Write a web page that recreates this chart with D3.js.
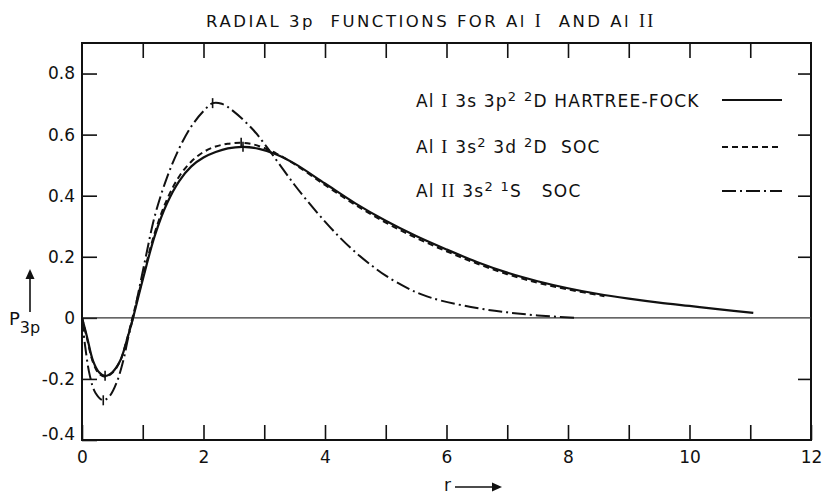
<!DOCTYPE html>
<html>
<head>
<meta charset="utf-8">
<script src="https://cdn.jsdelivr.net/npm/d3@7"></script>
<style>
	body { margin: 0; background: #fff; }
	text { font-family: "DejaVu Sans", sans-serif; fill: #111; }
	.roman { font-family: "Liberation Serif", serif; }
</style>
</head>
<body>
<div id="chart"></div>
<script>
// Al I 3s 3p2 2D Hartree-Fock
const rHF = [0, 0.08, 0.18, 0.28, 0.38, 0.5, 0.63, 0.74, 0.84, 1.0, 1.2, 1.4, 1.6, 1.8, 2.0, 2.2, 2.4, 2.65, 2.9, 3.2, 3.5, 4.0, 4.5, 5.0, 5.5, 6.0, 6.5, 7.0, 7.5, 8.0, 8.5, 9.0, 9.5, 10.0, 10.5, 11.05];
const pHF = [0, -0.06, -0.14, -0.178, -0.19, -0.178, -0.14, -0.072, 0, 0.125, 0.27, 0.375, 0.448, 0.496, 0.525, 0.543, 0.555, 0.56, 0.554, 0.535, 0.505, 0.44, 0.375, 0.318, 0.268, 0.224, 0.183, 0.148, 0.12, 0.097, 0.078, 0.063, 0.05, 0.039, 0.028, 0.016];

// Al I 3s2 3d 2D SOC
const rSOC = [0, 0.08, 0.18, 0.28, 0.38, 0.5, 0.63, 0.74, 0.83, 1.0, 1.2, 1.4, 1.6, 1.8, 2.0, 2.2, 2.4, 2.62, 2.8, 3.0, 3.2, 3.5, 4.0, 4.5, 5.0, 5.5, 6.0, 6.5, 7.0, 7.5, 8.0, 8.6];
const pSOC = [0, -0.065, -0.145, -0.183, -0.193, -0.18, -0.14, -0.07, 0, 0.132, 0.28, 0.388, 0.463, 0.512, 0.543, 0.561, 0.57, 0.573, 0.569, 0.556, 0.538, 0.503, 0.435, 0.37, 0.312, 0.262, 0.218, 0.178, 0.143, 0.115, 0.093, 0.071];

// Al II 3s2 1S SOC
const rIon = [0, 0.05, 0.13, 0.22, 0.35, 0.46, 0.57, 0.68, 0.76, 0.84, 1.04, 1.2, 1.4, 1.6, 1.8, 2.0, 2.15, 2.3, 2.49, 2.82, 3.04, 3.26, 3.5, 3.7, 4.0, 4.25, 4.5, 4.79, 5.0, 5.35, 5.6, 5.9, 6.5, 7.0, 7.5, 8.1];
const pIon = [0, -0.09, -0.19, -0.245, -0.27, -0.255, -0.212, -0.14, -0.065, 0, 0.19, 0.335, 0.46, 0.555, 0.627, 0.677, 0.703, 0.701, 0.677, 0.615, 0.56, 0.5, 0.435, 0.385, 0.315, 0.262, 0.215, 0.168, 0.138, 0.098, 0.076, 0.057, 0.032, 0.018, 0.008, 0];

const xTickValues = [0, 1, 2, 3, 4, 5, 6, 7, 8, 9, 10, 11, 12];
const yTickValues = [-0.4, -0.2, 0, 0.2, 0.4, 0.6, 0.8];

const legendLabels = [
	[["Al "], ["I", "roman"], [" 3s 3p"], ["2", "sup"], [" "], ["2", "sup"], ["D HARTREE-FOCK"]],
	[["Al "], ["I", "roman"], [" 3s"], ["2", "sup"], [" 3d "], ["2", "sup"], ["D  SOC"]],
	[["Al "], ["II", "roman"], [" 3s"], ["2", "sup"], [" "], ["1", "sup"], ["S   SOC"]]
];
const legendDash = [null, "6,4", "14,4,2,4"];

class RadialChart {
	constructor(parentElement) {
		this.parentElement = parentElement;
		this.series = [
			{ r: rHF, p: pHF },
			{ r: rSOC, p: pSOC },
			{ r: rIon, p: pIon }
		];
		this.initVis();
	}

	initVis() {
		let vis = this;
		vis.margin = { top: 43, right: 12, bottom: 56, left: 82 };
		vis.width = 823 - vis.margin.left - vis.margin.right;
		vis.height = 496 - vis.margin.top - vis.margin.bottom;

		vis.root = d3.select("#" + vis.parentElement)
			.append("svg")
			.attr("width", 823)
			.attr("height", 496);
		vis.svg = vis.root.append("g")
			.attr("transform", `translate(${vis.margin.left}, ${vis.margin.top})`);

		vis.xScale = d3.scaleLinear().domain([0, 12]).range([0, vis.width]);
		vis.yScale = d3.scaleLinear().domain([-0.4, 0.9]).range([vis.height, 0]);

		vis.updateVis();
	}

	updateVis() {
		let vis = this;

		// axes, all ticks point inward
		vis.svg.append("g")
			.attr("class", "axis x-axis")
			.attr("transform", `translate(0, ${vis.height})`)
			.call(d3.axisBottom(vis.xScale)
				.tickValues(xTickValues)
				.tickSize(-15)
				.tickPadding(11)
				.tickFormat(d => d % 2 ? "" : d));
		vis.svg.append("g")
			.attr("class", "axis top-axis")
			.call(d3.axisTop(vis.xScale)
				.tickValues(xTickValues.slice(1, -1))
				.tickSize(-15)
				.tickFormat(""));
		vis.svg.append("g")
			.attr("class", "axis y-axis")
			.call(d3.axisLeft(vis.yScale)
				.tickValues(yTickValues)
				.tickSize(-15)
				.tickPadding(7)
				.tickFormat(d => d === 0 ? "0" : d.toFixed(1)));
		vis.svg.append("g")
			.attr("class", "axis right-axis")
			.attr("transform", `translate(${vis.width}, 0)`)
			.call(d3.axisRight(vis.yScale)
				.tickValues(yTickValues.filter(d => d !== 0 && d !== -0.4))
				.tickSize(-13)
				.tickFormat(""));

		vis.svg.selectAll(".axis .domain").remove();
		vis.svg.selectAll(".axis line").attr("stroke", "#111").attr("stroke-width", 1.6);
		vis.svg.selectAll(".axis text")
			.style("font-family", "'DejaVu Sans', sans-serif")
			.style("font-size", "17px")
			.attr("fill", "#111");
		vis.svg.selectAll(".y-axis .tick text")
			.filter(d => d === -0.4)
			.attr("dy", "-0.05em");

		// frame and zero line
		vis.svg.append("rect")
			.attr("width", vis.width)
			.attr("height", vis.height)
			.attr("fill", "none")
			.attr("stroke", "#111")
			.attr("stroke-width", 2);
		vis.svg.append("line")
			.attr("x1", 0).attr("x2", vis.width)
			.attr("y1", vis.yScale(0)).attr("y2", vis.yScale(0))
			.attr("stroke", "#333")
			.attr("stroke-width", 1.2);

		const line = d3.line()
			.x(d => vis.xScale(d[0]))
			.y(d => vis.yScale(d[1]))
			.curve(d3.curveCatmullRom.alpha(0.5));

		vis.series.forEach((s, i) => {
			const pts = s.r.map((r, j) => [r, s.p[j]]);
			vis.svg.append("path")
				.datum(pts)
				.attr("class", "line")
				.attr("d", line)
				.attr("fill", "none")
				.attr("stroke", "#111")
				.attr("stroke-width", i === 0 ? 2.2 : 2)
				.attr("stroke-dasharray", legendDash[i]);

			// little tick marks at the extrema
			const ext = [d3.least(pts, d => d[1]), d3.greatest(pts, d => d[1])];
			if (i === 1) ext.shift();
			vis.svg.selectAll(null)
				.data(ext)
				.enter()
				.append("line")
				.attr("x1", d => vis.xScale(d[0])).attr("x2", d => vis.xScale(d[0]))
				.attr("y1", d => vis.yScale(d[1]) - 5).attr("y2", d => vis.yScale(d[1]) + 5)
				.attr("stroke", "#111")
				.attr("stroke-width", 1.6);
		});

		// legend
		const legendY = [107, 153, 197];
		const lineY = [100, 147, 191];
		legendLabels.forEach((parts, i) => {
			const t = vis.root.append("text")
				.attr("x", 416)
				.attr("y", legendY[i])
				.attr("xml:space", "preserve")
				.style("font-size", "17px")
				.style("letter-spacing", "1.2px");
			parts.forEach((p, k) => {
				const ts = t.append("tspan").text(p[0]);
				if (p[1] === "roman") ts.attr("class", "roman").style("font-size", "18px");
				if (p[1] === "sup") ts.attr("dy", -6).style("font-size", "13px");
				else if (k > 0 && parts[k - 1][1] === "sup") ts.attr("dy", 6);
			});
			vis.root.append("line")
				.attr("x1", 722).attr("x2", 782)
				.attr("y1", lineY[i]).attr("y2", lineY[i])
				.attr("stroke", "#111")
				.attr("stroke-width", 2)
				.attr("stroke-dasharray", legendDash[i]);
		});

		// title
		const title = vis.root.append("text")
			.attr("x", 431)
			.attr("y", 27)
			.attr("text-anchor", "middle")
			.attr("xml:space", "preserve")
			.style("font-size", "16.5px")
			.style("letter-spacing", "2.5px");
		title.append("tspan").text("RADIAL 3p  FUNCTIONS FOR Al ");
		title.append("tspan").attr("class", "roman").style("font-size", "18px").text("I");
		title.append("tspan").text("  AND Al ");
		title.append("tspan").attr("class", "roman").style("font-size", "18px").text("II");

		// y label with arrow
		vis.root.append("line")
			.attr("x1", 30).attr("x2", 30)
			.attr("y1", 312).attr("y2", 276)
			.attr("stroke", "#111").attr("stroke-width", 1.6);
		vis.root.append("path")
			.attr("d", "M30,269 L25.5,279 L34.5,279 Z")
			.attr("fill", "#111");
		const ylab = vis.root.append("text")
			.attr("x", 9)
			.attr("y", 325)
			.style("font-size", "18px");
		ylab.append("tspan").text("P");
		ylab.append("tspan").attr("dy", 8).style("font-size", "16px").text("3p");

		// x label with arrow
		vis.root.append("text")
			.attr("x", 444)
			.attr("y", 491)
			.style("font-size", "17px")
			.text("r");
		vis.root.append("line")
			.attr("x1", 455).attr("x2", 494)
			.attr("y1", 487).attr("y2", 487)
			.attr("stroke", "#111").attr("stroke-width", 1.6);
		vis.root.append("path")
			.attr("d", "M502,487 L492,482.5 L492,491.5 Z")
			.attr("fill", "#111");
	}
}

new RadialChart("chart");
</script>
</body>
</html>
